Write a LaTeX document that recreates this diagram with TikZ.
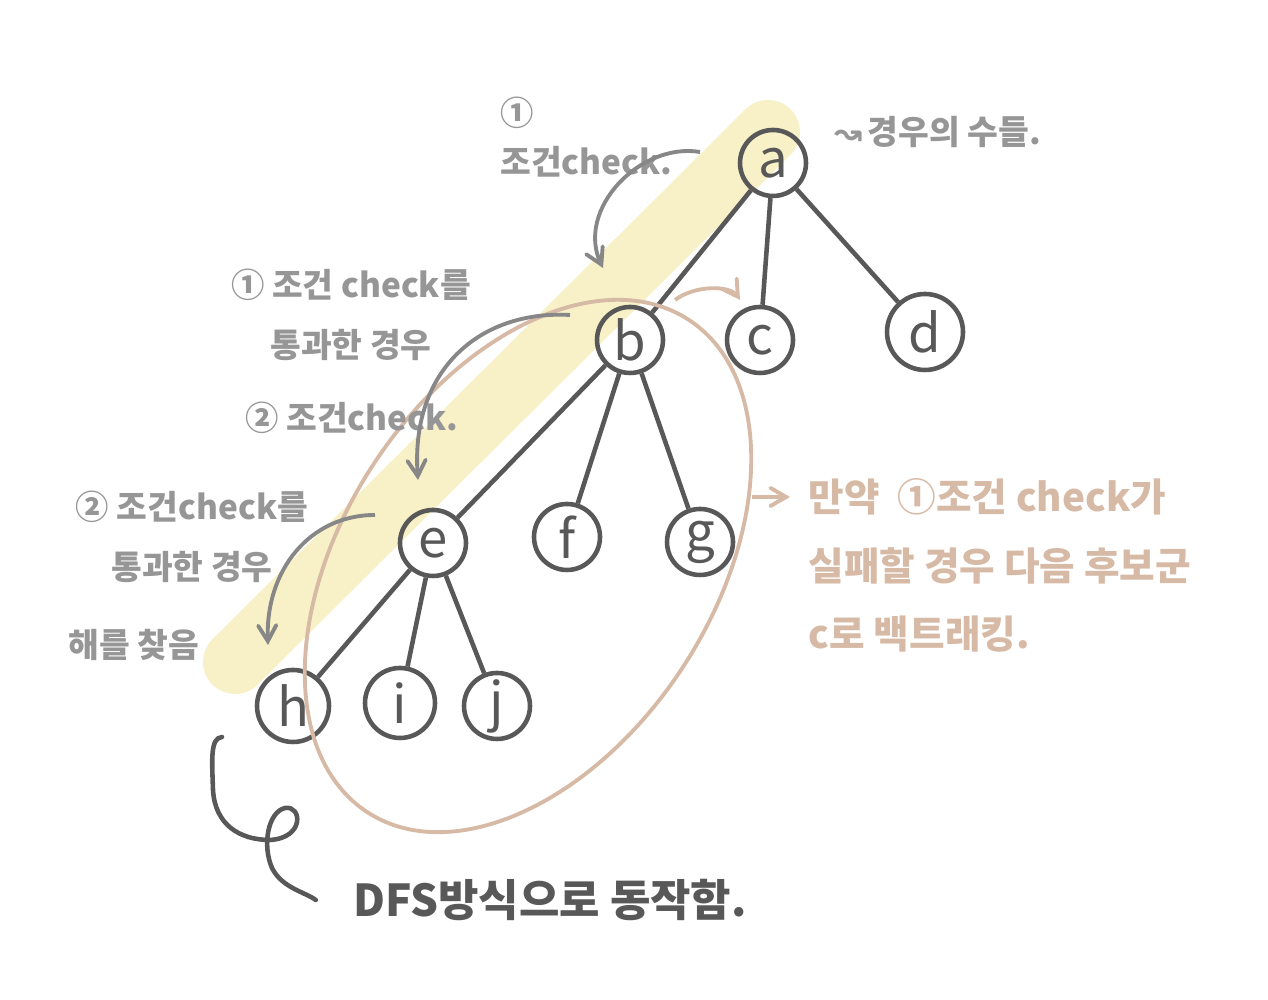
\documentclass[tikz,border=0pt]{standalone}
\usepackage{fontspec}
\setmainfont{Noto Sans CJK KR}
\newfontfamily\symfont{DejaVu Sans}
\usepackage{xcolor}
\usetikzlibrary{arrows, positioning}
\definecolor{inkgray}{RGB}{88,88,88}
\definecolor{notegray}{RGB}{150,150,150}
\definecolor{arrowgray}{RGB}{135,135,135}
\definecolor{tanbrown}{RGB}{214,186,166}
\definecolor{glowyellow}{RGB}{248,240,198}

\begin{document}
\begin{tikzpicture}[>=angle 60,
 every node/.style={font=\fontsize{9.5}{17}\selectfont\bfseries},
 vertex/.style={circle,draw=inkgray,line width=1.3pt,minimum size=.66cm,inner sep=0pt,
   text=inkgray,font=\fontsize{15}{15}\selectfont},
 note/.style={text=notegray,align=center},
 hint/.style={->,line width=1.1pt,draw=arrowgray},
 tanhint/.style={->,line width=1.1pt,draw=tanbrown},
 edge/.style={line width=1.3pt,draw=inkgray}]
 \useasboundingbox (0,0) rectangle (12.68,10);
 % highlighted path a -> h
 \coordinate (gtop) at (7.68,8.68);
 \coordinate (gbot) at (2.35,3.38);
 \draw[glowyellow,line width=.64cm,line cap=round] (gtop)--(gbot);
 % the tree
 \node[vertex] (a) at (7.73,8.37) {a};
 \node[vertex] (b) at (6.30,6.60) {b};
 \node[vertex] (c) at (7.60,6.60) {c};
 \node[vertex,minimum size=.76cm] (d) at (9.25,6.68) {d};
 \node[vertex] (e) at (4.33,4.57) {e};
 \node[vertex] (f) at (5.67,4.63) {f};
 \node[vertex] (g) at (7.00,4.58) {g};
 \node[vertex,minimum size=.72cm] (h) at (2.93,2.94) {h};
 \node[vertex,minimum size=.70cm] (i) at (4.00,2.97) {i};
 \node[vertex] (j) at (4.97,2.94) {j};
 \draw[edge] (a)--(b);
 \draw[edge] (a)--(c);
 \draw[edge] (a)--(d);
 \draw[edge] (b)--(e);
 \draw[edge] (b)--(f);
 \draw[edge] (b)--(g);
 \draw[edge] (e)--(h);
 \draw[edge] (e)--(i);
 \draw[edge] (e)--(j);
 % subtree of b
 \draw[tanbrown,line width=1.1pt,rotate around={56.85:(5.28,4.34)}]
   (5.28,4.34) ellipse (2.94cm and 1.85cm);
 % notes
 \node[note,align=left,anchor=west,font=\fontsize{9.5}{14}\selectfont\bfseries] (n1) at (4.88,8.63)
   {①\\조건check.};
 \node[note,anchor=west] (cases) at (8.22,8.68) {{\symfont ↝}\,경우의 수들.};
 \node[note] (n2) at (3.51,6.85) {① 조건 check를\\통과한 경우};
 \node[note] (n3) at (3.52,5.82) {② 조건check.};
 \node[note] (n4) at (1.92,4.63) {② 조건check를\\통과한 경우};
 \node[note] (found) at (1.34,3.55) {해를 찾음};
 \node[text=tanbrown,align=left,anchor=north west,inner sep=0pt,
   font=\fontsize{11}{19.5}\selectfont\bfseries] (back) at (8.08,5.22)
   {만약\ \ ①조건 check가\\실패할 경우 다음 후보군\\c로 백트래킹.};
 \node[text=inkgray,font=\fontsize{12.5}{15}\selectfont\bfseries] (dfs) at (5.50,1.00)
   {DFS방식으로 동작함.};
 % curved hints
 \coordinate (s1) at (7.00,8.48);
 \coordinate (t1) at (6.03,7.32);
 \draw[hint] (s1) .. controls (6.40,8.58) and (5.75,7.90) .. (t1);
 \coordinate (s2) at (5.70,6.85);
 \coordinate (t2) at (4.18,5.20);
 \draw[hint] (s2) .. controls (4.80,6.90) and (4.10,6.30) .. (t2);
 \coordinate (s3) at (3.75,4.85);
 \coordinate (t3) at (2.68,3.55);
 \draw[hint] (s3) .. controls (3.10,4.85) and (2.65,4.30) .. (t3);
 \coordinate (s4) at (6.75,7.00);
 \coordinate (t4) at (7.40,7.00);
 \draw[tanhint] (s4) .. controls (6.95,7.15) and (7.30,7.15) .. (t4);
 \coordinate (s5) at (7.52,5.03);
 \coordinate (t5) at (7.90,5.03);
 \draw[tanhint] (s5)--(t5);
 % curl from h to the DFS note
 \coordinate (hb) at (2.22,2.63);
 \draw[inkgray,line width=1.3pt,line cap=round] (hb)
   .. controls (2.10,2.62) and (2.12,2.40) .. (2.13,2.10)
   .. controls (2.15,1.75) and (2.40,1.60) .. (2.70,1.60)
   .. controls (3.05,1.62) and (3.02,1.95) .. (2.85,1.92)
   .. controls (2.68,1.88) and (2.62,1.55) .. (2.72,1.32)
   .. controls (2.82,1.12) and (3.05,1.08) .. ([xshift=-.25cm]dfs.west);
\end{tikzpicture}
\end{document}
